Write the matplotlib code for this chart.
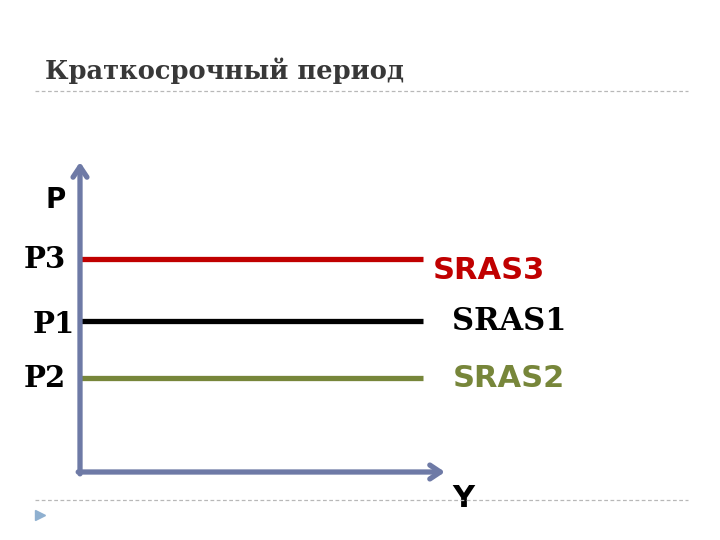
import matplotlib
matplotlib.use("Agg")
import matplotlib.pyplot as plt
from matplotlib.lines import Line2D

# slide content
title = "Краткосрочный период"
curve_names = ["SRAS3", "SRAS1", "SRAS2"]
price_names = ["P3", "P1", "P2"]
price_levels = [6.87, 4.87, 3.03]
price_label_x = [-0.4, -0.15, -0.4]
price_label_y = [6.87, 4.75, 3.03]
line_end = 9.4
curve_colors = ["#c00000", "#000000", "#77863a"]
label_fonts = ["DejaVu Sans", "DejaVu Serif", "DejaVu Sans"]
label_x = [9.67, 10.2, 10.2]
label_y = [6.5, 4.87, 3.03]
axis_color = "#6e7aa6"

fig = plt.figure(figsize=(7.2, 5.4), dpi=100)

# header and separators
fig.text(45 / 720, 1 - 71 / 540, title, fontsize=18.5, fontweight="bold",
         family="DejaVu Serif", color="#383838", va="center", ha="left")
for yy in (91, 500):
    fig.add_artist(Line2D([35 / 720, 688 / 720], [1 - yy / 540] * 2, color="#b8b8b8",
                          lw=0.9, ls=(0, (3, 2))))
fig.add_artist(Line2D([40 / 720], [1 - 515 / 540], marker=">", ms=7,
                      color="#8fb0d0", ls="none"))

# diagram axes
ax = fig.add_axes([80 / 720, 68 / 540, 365 / 720, 310 / 540])
ax.set_xlim(0, 10)
ax.set_ylim(0, 10)
ax.axis("off")

ax.hlines(price_levels, 0, line_end, colors=curve_colors, lw=3.8)

arrow = dict(arrowstyle="->,head_length=0.75,head_width=0.5", color=axis_color,
             lw=3.8, shrinkA=0, shrinkB=0)
ax.annotate("", xy=(0, 10), xytext=(0, -0.06), arrowprops=arrow, annotation_clip=False)
ax.annotate("", xy=(10, 0), xytext=(-0.05, 0), arrowprops=arrow, annotation_clip=False)

for name, x, y in zip(price_names, price_label_x, price_label_y):
    ax.text(x, y, name, ha="right", va="center", fontsize=21, fontweight="bold",
            family="DejaVu Serif", color="black", clip_on=False)
ax.text(-0.4, 8.77, "P", ha="right", va="center", fontsize=20, fontweight="bold",
        family="DejaVu Sans", color="black", clip_on=False)

for name, x, y, c, f in zip(curve_names, label_x, label_y, curve_colors, label_fonts):
    ax.text(x, y, name, ha="left", va="center", fontsize=22, fontweight="bold",
            family=f, color=c, clip_on=False)

ax.text(10.5, -0.85, "Y", ha="center", va="center", fontsize=22, fontweight="bold",
        family="DejaVu Sans", color="black", clip_on=False)

fig.savefig("out.png", dpi=100)
